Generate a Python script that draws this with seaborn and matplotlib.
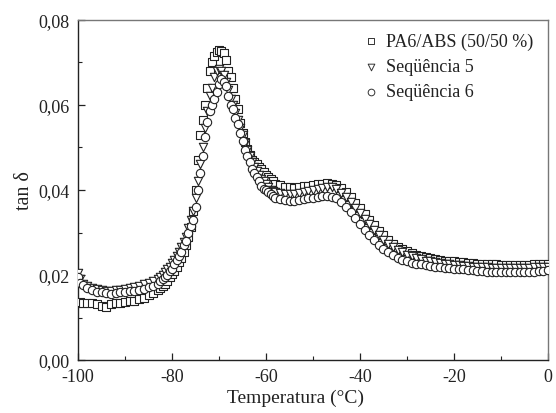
import numpy as np
import pandas as pd
import matplotlib
matplotlib.use("Agg")
import matplotlib.pyplot as plt
import seaborn as sns
from matplotlib.ticker import MultipleLocator, FuncFormatter

# ---------------- data ----------------
temperature = [
    -100, -99.5, -99, -98, -97, -96, -95, -94, -93, -92, -91, -90, -89, -88, -87, -86, -85, -84, -83,
    -82.5, -82, -81.5, -81, -80.5, -80, -79.5, -79, -78.5, -78, -77.5, -77, -76.5, -76, -75.5, -75,
    -74.5, -74, -73.5, -73, -72.5, -72, -71.5, -71, -70.5, -70, -69.5, -69, -68.5, -68, -67.5, -67,
    -66.5, -66, -65.5, -65, -64.5, -64, -63.5, -63, -62.5, -62, -61.5, -61, -60.5, -60, -59.5, -59,
    -58.5, -58,
    -57, -56, -55, -54, -53, -52, -51, -50, -49, -48, -47, -46, -45, -44, -43, -42, -41, -40, -39, -38,
    -37, -36, -35, -34, -33, -32, -31, -30, -29, -28, -27, -26, -25, -24, -23, -22, -21, -20, -19, -18,
    -17, -16, -15, -14, -13, -12, -11, -10, -9, -8, -7, -6, -5, -4, -3, -2, -1, 0,
]

pa6_abs = [
    0.0135, 0.0137, 0.0135, 0.0133, 0.0135, 0.0132, 0.0128, 0.0124, 0.0132, 0.0135, 0.0134, 0.0137,
    0.0138, 0.0140, 0.0143, 0.0147, 0.0152, 0.0158, 0.0165,
    0.0170, 0.0175, 0.0180, 0.0187, 0.0195, 0.0202, 0.0210, 0.0220, 0.0230, 0.0240, 0.0255, 0.0270,
    0.0290, 0.0312, 0.0350, 0.0400, 0.0470, 0.0530, 0.0565, 0.0600, 0.0640, 0.0680, 0.0700, 0.0715,
    0.0725, 0.0730, 0.0728, 0.0722, 0.0705, 0.0680, 0.0665, 0.0640, 0.0615, 0.0590, 0.0558, 0.0535,
    0.0513, 0.0497, 0.0482, 0.0470, 0.0465, 0.0460, 0.0455, 0.0450, 0.0442, 0.0436, 0.0430, 0.0425,
    0.0420, 0.0415,
    0.0412, 0.0408, 0.0406, 0.0405, 0.0407, 0.0410, 0.0410, 0.0412, 0.0413, 0.0415, 0.0416, 0.0415,
    0.0412, 0.0405, 0.0395, 0.0383, 0.0370, 0.0357, 0.0343, 0.0330, 0.0317, 0.0304, 0.0293, 0.0283,
    0.0274, 0.0267, 0.0261, 0.0256, 0.0252, 0.0248, 0.0245, 0.0242, 0.0240, 0.0238, 0.0236, 0.0234,
    0.0233, 0.0232, 0.0231, 0.0230, 0.0229, 0.0228, 0.0227, 0.0226, 0.0226, 0.0225, 0.0225, 0.0224,
    0.0224, 0.0223, 0.0223, 0.0224, 0.0224, 0.0224, 0.0225, 0.0225, 0.0226, 0.0226,
]

sequencia_5 = [
    0.0205, 0.0190, 0.0180, 0.0175, 0.0170, 0.0168, 0.0165, 0.0163, 0.0163, 0.0165, 0.0165, 0.0167,
    0.0170, 0.0172, 0.0175, 0.0178, 0.0181, 0.0185, 0.0190,
    0.0195, 0.0200, 0.0207, 0.0213, 0.0220, 0.0228, 0.0236, 0.0245, 0.0255, 0.0265, 0.0278, 0.0290,
    0.0310, 0.0330, 0.0350, 0.0380, 0.0420, 0.0460, 0.0500, 0.0545, 0.0585, 0.0620, 0.0640, 0.0665,
    0.0680, 0.0685, 0.0680, 0.0670, 0.0655, 0.0635, 0.0615, 0.0600, 0.0580, 0.0565, 0.0545, 0.0530,
    0.0510, 0.0495, 0.0480, 0.0465, 0.0455, 0.0445, 0.0435, 0.0427, 0.0420, 0.0413, 0.0407, 0.0400,
    0.0397, 0.0395,
    0.0392, 0.0390, 0.0390, 0.0390, 0.0392, 0.0395, 0.0397, 0.0400, 0.0402, 0.0405, 0.0407, 0.0406,
    0.0402, 0.0394, 0.0384, 0.0371, 0.0358, 0.0345, 0.0332, 0.0319, 0.0306, 0.0294, 0.0283, 0.0274,
    0.0266, 0.0259, 0.0253, 0.0248, 0.0244, 0.0240, 0.0237, 0.0234, 0.0232, 0.0230, 0.0228, 0.0227,
    0.0225, 0.0224, 0.0223, 0.0222, 0.0221, 0.0220, 0.0219, 0.0218, 0.0218, 0.0217, 0.0217, 0.0216,
    0.0216, 0.0216, 0.0216, 0.0216, 0.0217, 0.0217, 0.0218, 0.0218, 0.0219, 0.0219,
]

sequencia_6 = [
    0.0195, 0.0182, 0.0176, 0.0170, 0.0165, 0.0161, 0.0160, 0.0157, 0.0155, 0.0157, 0.0160, 0.0160,
    0.0162, 0.0163, 0.0165, 0.0168, 0.0171, 0.0175, 0.0180,
    0.0185, 0.0190, 0.0195, 0.0200, 0.0210, 0.0215, 0.0225, 0.0235, 0.0245, 0.0255, 0.0270, 0.0280,
    0.0300, 0.0315, 0.0330, 0.0360, 0.0400, 0.0440, 0.0480, 0.0525, 0.0560, 0.0585, 0.0600, 0.0615,
    0.0630, 0.0650, 0.0660, 0.0655, 0.0645, 0.0620, 0.0600, 0.0590, 0.0570, 0.0555, 0.0535, 0.0515,
    0.0495, 0.0480, 0.0465, 0.0450, 0.0440, 0.0430, 0.0420, 0.0410, 0.0403, 0.0400, 0.0395, 0.0390,
    0.0385, 0.0380,
    0.0378, 0.0376, 0.0375, 0.0375, 0.0377, 0.0378, 0.0380, 0.0381, 0.0383, 0.0385, 0.0387, 0.0384,
    0.0380, 0.0372, 0.0361, 0.0348, 0.0334, 0.0320, 0.0307, 0.0294, 0.0282, 0.0271, 0.0262, 0.0254,
    0.0247, 0.0241, 0.0236, 0.0232, 0.0229, 0.0227, 0.0225, 0.0223, 0.0221, 0.0220, 0.0219, 0.0217,
    0.0216, 0.0215, 0.0214, 0.0213, 0.0212, 0.0211, 0.0210, 0.0209, 0.0208, 0.0207, 0.0207, 0.0206,
    0.0206, 0.0206, 0.0206, 0.0207, 0.0207, 0.0208, 0.0208, 0.0209, 0.0210, 0.0212,
]

series_names = ["PA6/ABS (50/50 %)", "Seqüência 5", "Seqüência 6"]
series_values = [pa6_abs, sequencia_5, sequencia_6]
series_markers = ["s", "v", "o"]

x_ticks = [-100, -80, -60, -40, -20, 0]
y_ticks = [0.00, 0.02, 0.04, 0.06, 0.08]

# ---------------- style ----------------
sns.set_style("ticks")
plt.rcParams["font.family"] = ["Liberation Serif", "DejaVu Serif"]

fig = plt.figure(figsize=(5.56, 4.14), dpi=100)
ax = fig.add_axes([0.1403, 0.128, 0.8453, 0.8213])

for name, vals, mk in zip(series_names, series_values, series_markers):
    df = pd.DataFrame({"T": temperature, "tan": vals})
    sns.scatterplot(data=df, x="T", y="tan", marker=mk, s=36, color="white",
                    edgecolor="#222222", linewidth=0.8, ax=ax, label=name, zorder=3)

ax.set_xlim(-100, 0)
ax.set_ylim(0, 0.08)
ax.set_xticks(x_ticks)
ax.set_yticks(y_ticks)
ax.xaxis.set_minor_locator(MultipleLocator(10))
ax.yaxis.set_minor_locator(MultipleLocator(0.01))
ax.xaxis.set_major_formatter(FuncFormatter(lambda v, p: f"{v:.0f}"))
ax.yaxis.set_major_formatter(FuncFormatter(lambda v, p: f"{v:.2f}".replace(".", ",")))
ax.tick_params(axis="both", which="major", direction="in", length=5, width=0.9,
               labelsize=13, colors="#222222", pad=6)
ax.tick_params(axis="both", which="minor", direction="in", length=3, width=0.8, colors="#222222")
ax.tick_params(top=False, right=False, which="both")

for side in ["left", "bottom"]:
    ax.spines[side].set_color("#222222")
    ax.spines[side].set_linewidth(1.0)
for side in ["top", "right"]:
    ax.spines[side].set_color("#777777")
    ax.spines[side].set_linewidth(1.0)

ax.set_xlabel("Temperatura (°C)", fontsize=14, color="#222222", labelpad=4)
ax.xaxis.set_label_coords(0.462, -0.085)
ax.set_ylabel("tan δ", fontsize=14.5, color="#222222", labelpad=3)

leg = ax.legend(loc="upper left", bbox_to_anchor=(0.604, 0.962), frameon=False,
                fontsize=13, markerscale=0.8, handlelength=1.0, handletextpad=0.35,
                labelspacing=0.45, borderaxespad=0, borderpad=0)
for t in leg.get_texts():
    t.set_color("#222222")
for h in leg.legend_handles:
    h.set_edgecolor("#333333")
    h.set_linewidth(0.7)

fig.savefig("out.png", dpi=100)
